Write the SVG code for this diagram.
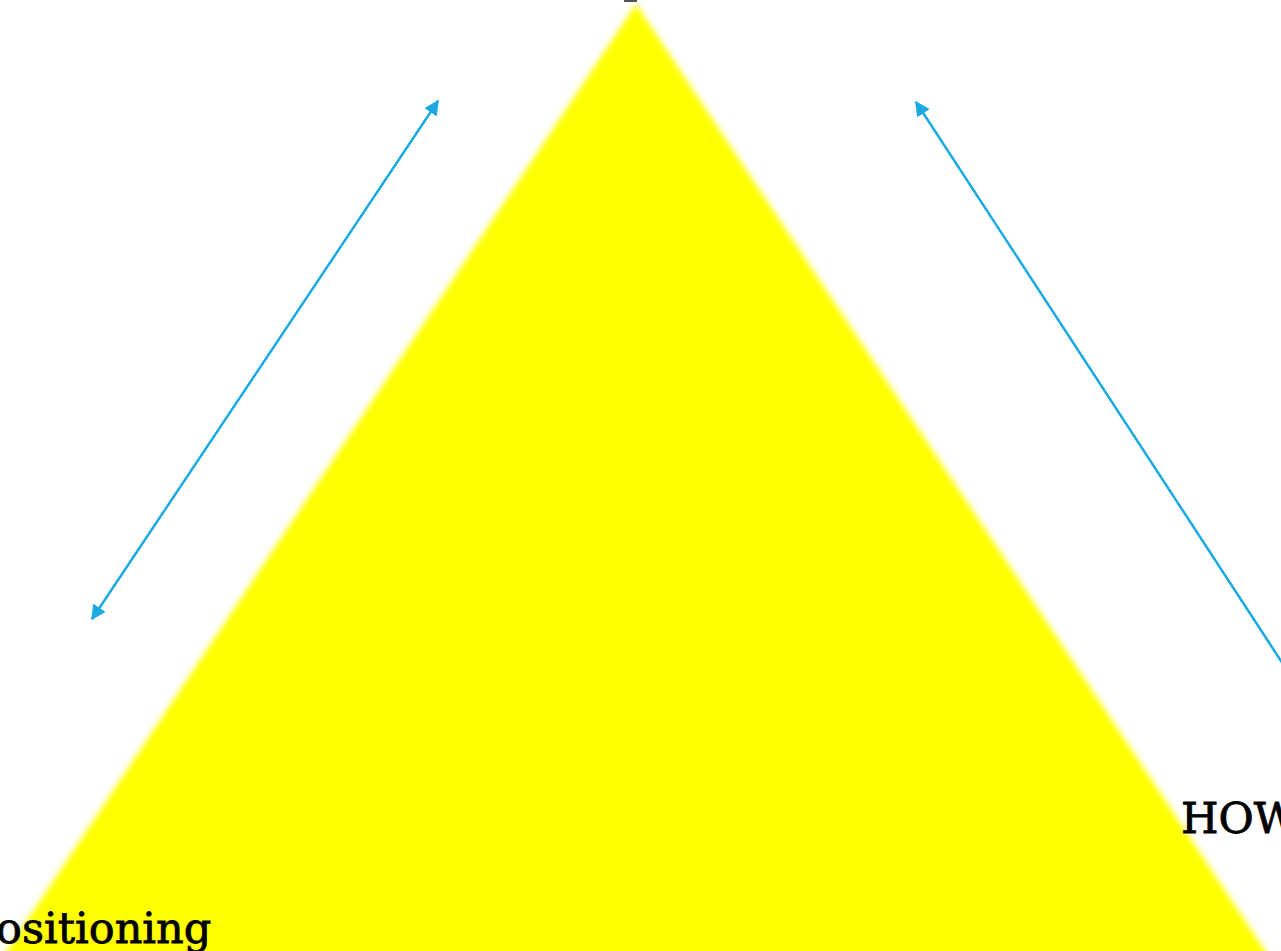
<svg xmlns="http://www.w3.org/2000/svg" width="1281" height="951" viewBox="0 0 1281 951">
<style>
.lbl{font-family:"DejaVu Serif","Liberation Serif",serif;font-size:43px;fill:#000;stroke:#000;stroke-width:0.8;}
.conn{stroke:#1BAAE0;stroke-width:2.5;fill:none;}
</style>
<defs>
<filter id="blur" x="-5%" y="-5%" width="110%" height="110%"><feGaussianBlur stdDeviation="3"/></filter>
<marker id="ah" viewBox="0 0 10 10" refX="9" refY="5" markerWidth="6" markerHeight="6" orient="auto-start-reverse" markerUnits="strokeWidth">
<path d="M0,0 L10,5 L0,10 z" fill="#1BAAE0"/>
</marker>
</defs>
<rect width="1281" height="951" fill="#fff"/>
<g id="triangle">
<polygon points="636,4 2,958 1270,958" fill="#FFFF00" filter="url(#blur)"/>
<rect x="624" y="0" width="13" height="2" fill="#555"/>
</g>
<g id="connectors">
<line class="conn" x1="92" y1="619" x2="438" y2="101" marker-start="url(#ah)" marker-end="url(#ah)"/>
<line class="conn" x1="1283" y1="664" x2="916" y2="102" marker-end="url(#ah)"/>
</g>
<g id="label-positioning"><text class="lbl" x="-4" y="943">ositioning</text></g>
<g id="label-how"><text class="lbl" x="1181" y="833">HOW</text></g>
</svg>
